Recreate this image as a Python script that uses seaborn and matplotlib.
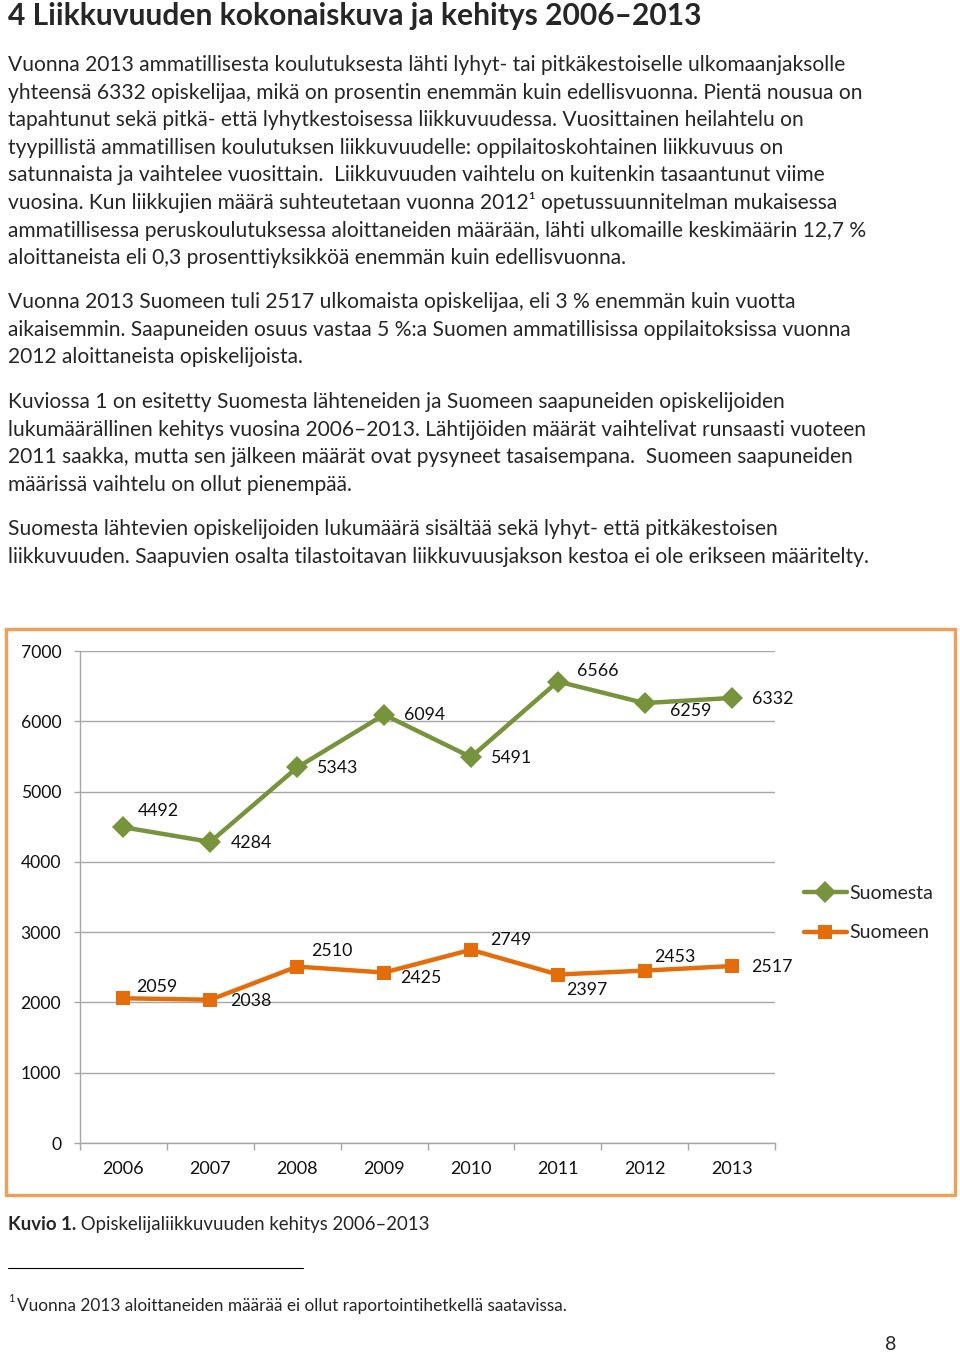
import matplotlib
matplotlib.use("Agg")
import matplotlib.pyplot as plt
import seaborn as sns
import pandas as pd
from matplotlib.lines import Line2D
from matplotlib.patches import Rectangle

# chart data
years = ["2006", "2007", "2008", "2009", "2010", "2011", "2012", "2013"]
suomesta = [4492, 4284, 5343, 6094, 5491, 6566, 6259, 6332]
suomeen = [2059, 2038, 2510, 2425, 2749, 2397, 2453, 2517]
series_names = ["Suomesta", "Suomeen"]
y_ticks = [0, 1000, 2000, 3000, 4000, 5000, 6000, 7000]

# page text
title = "4 Liikkuvuuden kokonaiskuva ja kehitys 2006\u20132013"
paragraphs = [
    ["Vuonna 2013 ammatillisesta koulutuksesta lähti lyhyt- tai pitkäkestoiselle ulkomaanjaksolle",
     "yhteensä 6332 opiskelijaa, mikä on prosentin enemmän kuin edellisvuonna. Pientä nousua on",
     "tapahtunut sekä pitkä- että lyhytkestoisessa liikkuvuudessa. Vuosittainen heilahtelu on",
     "tyypillistä ammatillisen koulutuksen liikkuvuudelle: oppilaitoskohtainen liikkuvuus on",
     "satunnaista ja vaihtelee vuosittain.  Liikkuvuuden vaihtelu on kuitenkin tasaantunut viime",
     "vuosina. Kun liikkujien määrä suhteutetaan vuonna 2012\u00b9 opetussuunnitelman mukaisessa",
     "ammatillisessa peruskoulutuksessa aloittaneiden määrään, lähti ulkomaille keskimäärin 12,7 %",
     "aloittaneista eli 0,3 prosenttiyksikköä enemmän kuin edellisvuonna."],
    ["Vuonna 2013 Suomeen tuli 2517 ulkomaista opiskelijaa, eli 3 % enemmän kuin vuotta",
     "aikaisemmin. Saapuneiden osuus vastaa 5 %:a Suomen ammatillisissa oppilaitoksissa vuonna",
     "2012 aloittaneista opiskelijoista."],
    ["Kuviossa 1 on esitetty Suomesta lähteneiden ja Suomeen saapuneiden opiskelijoiden",
     "lukumäärällinen kehitys vuosina 2006\u20132013. Lähtijöiden määrät vaihtelivat runsaasti vuoteen",
     "2011 saakka, mutta sen jälkeen määrät ovat pysyneet tasaisempana.  Suomeen saapuneiden",
     "määrissä vaihtelu on ollut pienempää."],
    ["Suomesta lähtevien opiskelijoiden lukumäärä sisältää sekä lyhyt- että pitkäkestoisen",
     "liikkuvuuden. Saapuvien osalta tilastoitavan liikkuvuusjakson kestoa ei ole erikseen määritelty."],
]
caption_bold = "Kuvio 1."
caption_rest = " Opiskelijaliikkuvuuden kehitys 2006\u20132013"
footnote = "Vuonna 2013 aloittaneiden määrää ei ollut raportointihetkellä saatavissa."
page_no = "8"

# label offsets (pixels) for the data labels
green_off = [(14, 16), (20, -1), (19, -1), (20, 0), (19, -1), (19, 11), (25, -8), (20, -1)]
orange_off = [(13, 11), (20, -1), (14, 16), (16, -5), (19, 10), (8, -15), (9, 14), (20, -1)]

GREEN = "#77933C"
ORANGE = "#E46C0A"
GRID = "#A6A6A6"

sns.set_style("white")
plt.rcParams['font.family'] = ['Lato', 'DejaVu Sans']

W, H = 960, 1353
fig = plt.figure(figsize=(W / 100, H / 100), dpi=100)


def fx(px):
    return px / W


def fy(py):
    return 1 - py / H


body_size = 15.1
fig.text(fx(8), fy(25), title, fontsize=21.6, fontweight='bold', va='baseline')

para_base = [71, 308, 408, 535]
step = 27.6
for start, lines in zip(para_base, paragraphs):
    for i, line in enumerate(lines):
        fig.text(fx(8), fy(start + i * step), line, fontsize=body_size, va='baseline')

# chart frame
fig.patches.append(Rectangle((fx(6), fy(1195)), fx(955) - fx(6), fy(629) - fy(1195),
                             transform=fig.transFigure, fill=False,
                             edgecolor="#F59D56", linewidth=2.4, zorder=0))

ax = fig.add_axes([fx(80), fy(1143), fx(775) - fx(80), fy(651) - fy(1143)])
df = pd.DataFrame({"pos": range(len(years)), "Suomesta": suomesta, "Suomeen": suomeen})

sns.lineplot(data=df, x="pos", y="Suomesta", ax=ax, color=GREEN, linewidth=3.2,
             marker="D", markersize=11, markeredgecolor=GREEN, markeredgewidth=0, zorder=3)
sns.lineplot(data=df, x="pos", y="Suomeen", ax=ax, color=ORANGE, linewidth=3.2,
             marker="s", markersize=10.5, markeredgecolor=ORANGE, markeredgewidth=0, zorder=3)

for i, v in enumerate(suomesta):
    ax.annotate(str(v), (i, v), xytext=green_off[i], textcoords='offset pixels',
                ha='left', va='center', fontsize=12.8, color="#111111")
for i, v in enumerate(suomeen):
    ax.annotate(str(v), (i, v), xytext=orange_off[i], textcoords='offset pixels',
                ha='left', va='center', fontsize=12.8, color="#111111")

ax.set_xlim(-0.5, len(years) - 0.5)
ax.set_ylim(0, 7000)
ax.set_yticks(y_ticks)
ax.set_xticks(range(len(years)))
ax.set_xticklabels(years)
ax.set_xticks([i - 0.5 for i in range(len(years) + 1)], minor=True)
ax.set_xlabel("")
ax.set_ylabel("")
ax.grid(axis='y', color=GRID, linewidth=1.0)
ax.set_axisbelow(True)
for s in ["top", "right"]:
    ax.spines[s].set_visible(False)
for s in ["left", "bottom"]:
    ax.spines[s].set_color(GRID)
    ax.spines[s].set_linewidth(1.0)
ax.tick_params(axis='y', which='major', left=True, length=4, width=1, color=GRID,
               pad=9.5, labelsize=12.6, labelcolor="#111111")
ax.tick_params(axis='x', which='major', bottom=False, length=0, pad=13,
               labelsize=13, labelcolor="#111111")
ax.tick_params(axis='x', which='minor', bottom=True, length=5, width=1, color=GRID)

handles = [Line2D([], [], color=GREEN, linewidth=3.2, marker="D", markersize=11, markeredgewidth=0),
           Line2D([], [], color=ORANGE, linewidth=3.2, marker="s", markersize=10.5, markeredgewidth=0)]
fig.legend(handles, series_names, loc='upper left', bbox_to_anchor=(fx(804), fy(885)),
           frameon=False, fontsize=14, handlelength=2.2, handletextpad=0.15,
           labelspacing=1.15, borderpad=0, borderaxespad=0)

# caption
renderer = fig.canvas.get_renderer()
cb = fig.text(fx(8), fy(1230), caption_bold, fontsize=13.4, fontweight='bold', va='baseline')
bb = cb.get_window_extent(renderer=renderer)
fig.text(bb.x1 / W, fy(1230), caption_rest, fontsize=13.4, va='baseline')

# footnote
fig.add_artist(Line2D([fx(8), fx(303)], [fy(1268), fy(1268)], transform=fig.transFigure,
                      color="black", linewidth=0.8))
fig.text(fx(8), fy(1302), "1", fontsize=8, va='baseline')
fig.text(fx(17), fy(1311), footnote, fontsize=12.4, va='baseline')
fig.text(fx(885), fy(1350), page_no, fontsize=14, va='baseline')

fig.savefig("out.png", dpi=100)
